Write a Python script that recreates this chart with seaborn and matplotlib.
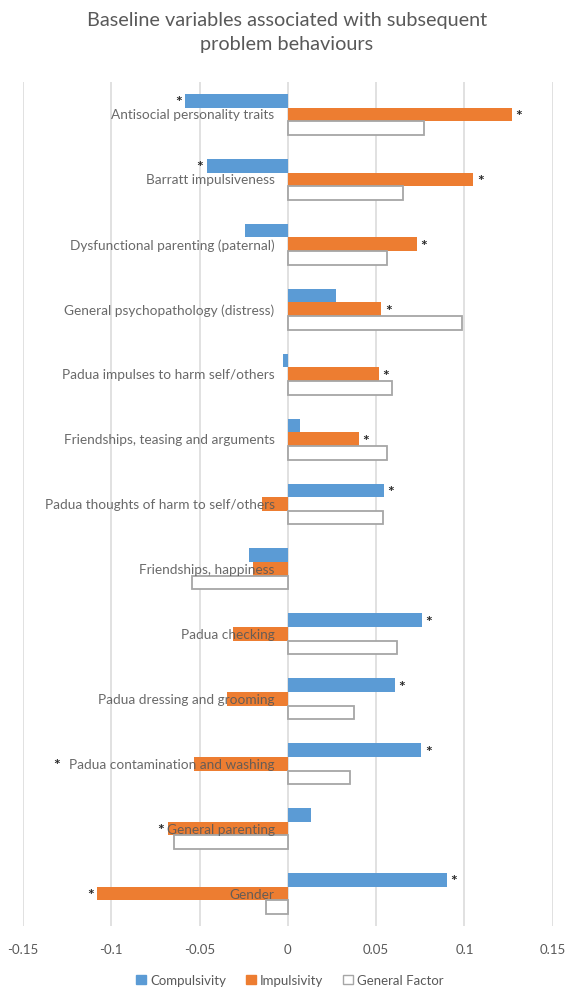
import matplotlib
matplotlib.use("Agg")
from matplotlib import pyplot as plt
from matplotlib.patches import Patch
import seaborn as sns
import pandas as pd

sns.set_style("white")
plt.rcParams['font.family'] = ['Lato', 'DejaVu Sans']

# data
categories = ["Antisocial personality traits", "Barratt impulsiveness",
              "Dysfunctional parenting (paternal)", "General psychopathology (distress)",
              "Padua impulses to harm self/others", "Friendships, teasing and arguments",
              "Padua thoughts of harm to self/others", "Friendships, happiness",
              "Padua checking", "Padua dressing and grooming",
              "Padua contamination and washing", "General parenting", "Gender"]
compulsivity = [-0.058, -0.046, -0.024, 0.027, -0.003, 0.007, 0.0545, -0.022,
                0.076, 0.0605, 0.0756, 0.0133, 0.090]
impulsivity = [0.127, 0.105, 0.073, 0.053, 0.0516, 0.040, -0.0146, -0.0195,
               -0.031, -0.0344, -0.053, -0.068, -0.108]
general = [0.077, 0.065, 0.056, 0.0986, 0.059, 0.056, 0.054, -0.054,
           0.062, 0.0375, 0.035, -0.0646, -0.0126]
sig_comp = [1, 1, 0, 0, 0, 0, 1, 0, 1, 1, 1, 0, 1]
sig_imp = [1, 1, 1, 1, 1, 1, 0, 0, 0, 0, 1, 1, 1]
series = ["Compulsivity", "Impulsivity", "General Factor"]
colors = ["#5B9BD5", "#ED7D31", "#FFFFFF"]
xticks = [-0.15, -0.1, -0.05, 0, 0.05, 0.1, 0.15]
xticklabels = ["-0.15", "-0.1", "-0.05", "0", "0.05", "0.1", "0.15"]

df = pd.DataFrame({
    "variable": categories * 3,
    "series": [series[0]] * 13 + [series[1]] * 13 + [series[2]] * 13,
    "value": compulsivity + impulsivity + general,
})

txt = "#595959"
fig = plt.figure(figsize=(5.74, 9.95), dpi=100)
ax = fig.add_axes([0.040, 0.0683, 0.923, 0.8483])

sns.barplot(data=df, x="value", y="variable", hue="series", hue_order=series,
            order=categories, palette=colors, saturation=1, orient="h", width=0.63,
            linewidth=0, ax=ax, legend=False, zorder=3)

# outline for the white series
for p in ax.containers[2]:
    p.set_edgecolor("#A6A6A6")
    p.set_linewidth(1.3)

ax.set_xlim(-0.15, 0.15)
ax.set_xticks(xticks)
ax.set_xticklabels(xticklabels, color=txt, fontsize=9.5)
ax.tick_params(axis="x", length=0, pad=12)
ax.set_yticks([])
ax.set_xlabel("")
ax.set_ylabel("")
for s in ax.spines.values():
    s.set_visible(False)
ax.grid(axis="x", color="#D9D9D9", linewidth=1.1, zorder=0)
ax.set_axisbelow(True)

# category labels next to the zero line
for i, cat in enumerate(categories):
    ax.text(-0.0075, i, cat, ha="right", va="center", fontsize=9.8,
            color=txt, zorder=5, alpha=0.9)

# significance stars
for cont, vals, sig in [(ax.containers[0], compulsivity, sig_comp),
                        (ax.containers[1], impulsivity, sig_imp)]:
    for i, (p, v, s) in enumerate(zip(cont, vals, sig)):
        if not s:
            continue
        yc = p.get_y() + p.get_height() / 2
        off = 5 if v > 0 else -5
        xs = v
        if categories[i] == "Padua contamination and washing" and v < 0:
            # this star sits in front of the label in the original
            xs = -0.127
        ax.annotate("*", (xs, yc), xytext=(off, 0), textcoords="offset points",
                    ha="center", va="center_baseline", fontsize=11.5,
                    color="#262626", fontweight="bold", zorder=6)

fig.suptitle("Baseline variables associated with subsequent\nproblem behaviours",
             x=0.5, y=0.988, fontsize=14.3, color=txt, linespacing=1.5)

handles = [Patch(facecolor=colors[0], edgecolor=colors[0]),
           Patch(facecolor=colors[1], edgecolor=colors[1]),
           Patch(facecolor="white", edgecolor="#A6A6A6")]
fig.legend(handles, series, loc="center", bbox_to_anchor=(0.505, 0.014), ncol=3,
           frameon=False, fontsize=9.5, labelcolor=txt, handlelength=0.75,
           handleheight=0.75, handletextpad=0.3, columnspacing=1.5)

fig.savefig("out.png", dpi=100)
